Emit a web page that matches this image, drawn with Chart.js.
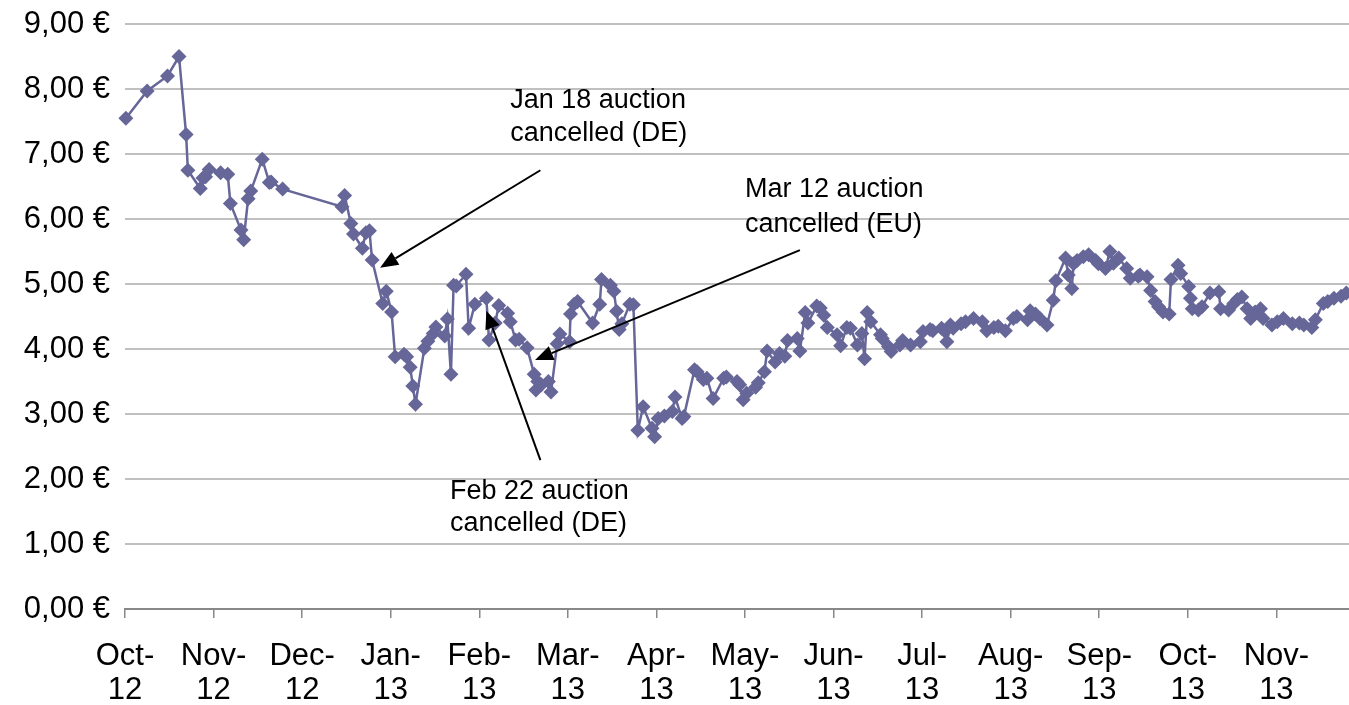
<!DOCTYPE html>
<html>
<head>
<meta charset="utf-8">
<script src="https://cdn.jsdelivr.net/npm/chart.js@4"></script>
<style>
  html, body { margin: 0; padding: 0; background: #fff; overflow: hidden; }
  canvas { display: block; }
</style>
</head>
<body>
<canvas id="chart" width="1349" height="705"></canvas>
<script>
// month tick labels (one tick per month, evenly spaced)
const monthLabels = ["Oct-12", "Nov-12", "Dec-12", "Jan-13", "Feb-13", "Mar-13", "Apr-13",
  "May-13", "Jun-13", "Jul-13", "Aug-13", "Sep-13", "Oct-13", "Nov-13"];

// x = months since start of Oct-12, y = EUA price in €
const monthPos = [
  0.01, 0.25, 0.48, 0.61, 0.69, 0.71, 0.85, 0.88, 0.91, 0.95,
  1.08, 1.16, 1.19, 1.31, 1.34, 1.39, 1.42, 1.55, 1.63, 1.65,
  1.78, 2.45, 2.48, 2.55, 2.58, 2.68, 2.72, 2.76, 2.79, 2.91,
  2.95, 3.01, 3.05, 3.15, 3.18, 3.22, 3.25, 3.28, 3.38, 3.42,
  3.48, 3.51, 3.61, 3.64, 3.68, 3.71, 3.74, 3.85, 3.88, 3.95,
  4.08, 4.11, 4.18, 4.22, 4.32, 4.35, 4.41, 4.45, 4.54, 4.62,
  4.64, 4.66, 4.70, 4.78, 4.81, 4.88, 4.91, 5.02, 5.03, 5.07,
  5.11, 5.28, 5.36, 5.38, 5.48, 5.52, 5.55, 5.58, 5.61, 5.70,
  5.74, 5.79, 5.85, 5.95, 5.98, 6.02, 6.09, 6.18, 6.21, 6.29,
  6.31, 6.43, 6.46, 6.53, 6.57, 6.64, 6.76, 6.79, 6.91, 6.94,
  6.98, 7.02, 7.12, 7.15, 7.22, 7.25, 7.34, 7.39, 7.45, 7.48,
  7.59, 7.62, 7.68, 7.71, 7.81, 7.85, 7.89, 7.93, 8.04, 8.08,
  8.15, 8.19, 8.27, 8.32, 8.35, 8.38, 8.42, 8.53, 8.55, 8.62,
  8.65, 8.75, 8.78, 8.87, 8.98, 9.01, 9.09, 9.12, 9.22, 9.26,
  9.28, 9.32, 9.35, 9.44, 9.49, 9.58, 9.68, 9.73, 9.81, 9.86,
  9.94, 10.03, 10.07, 10.19, 10.22, 10.28, 10.33, 10.41, 10.48, 10.51,
  10.62, 10.65, 10.69, 10.71, 10.75, 10.82, 10.88, 10.96, 10.99, 11.07,
  11.12, 11.16, 11.22, 11.31, 11.35, 11.44, 11.46, 11.54, 11.58, 11.63,
  11.67, 11.72, 11.79, 11.81, 11.89, 11.92, 12.01, 12.03, 12.05, 12.12,
  12.16, 12.25, 12.35, 12.37, 12.46, 12.52, 12.56, 12.61, 12.67, 12.71,
  12.76, 12.82, 12.85, 12.95, 13.01, 13.08, 13.18, 13.26, 13.31, 13.40,
  13.44, 13.53, 13.58, 13.65, 13.73, 13.79
];
const prices = [
  7.55, 7.97, 8.20, 8.50, 7.30, 6.75, 6.47, 6.63, 6.65, 6.76,
  6.71, 6.69, 6.24, 5.83, 5.68, 6.31, 6.43, 6.92, 6.56, 6.57,
  6.46, 6.19, 6.36, 5.93, 5.77, 5.55, 5.79, 5.82, 5.37, 4.70,
  4.89, 4.57, 3.88, 3.92, 3.88, 3.72, 3.43, 3.15, 4.01, 4.12,
  4.24, 4.34, 4.20, 4.46, 3.61, 4.98, 4.97, 5.15, 4.32, 4.69,
  4.78, 4.14, 4.40, 4.67, 4.55, 4.42, 4.14, 4.15, 4.02, 3.61,
  3.37, 3.50, 3.45, 3.50, 3.34, 4.08, 4.23, 4.11, 4.54, 4.69,
  4.73, 4.40, 4.69, 5.07, 4.98, 4.89, 4.58, 4.30, 4.39, 4.69,
  4.68, 2.75, 3.11, 2.78, 2.65, 2.93, 2.97, 3.04, 3.26, 2.93,
  2.96, 3.68, 3.65, 3.53, 3.55, 3.24, 3.55, 3.57, 3.50, 3.45,
  3.22, 3.32, 3.41, 3.48, 3.65, 3.97, 3.80, 3.93, 3.89, 4.13,
  4.16, 3.97, 4.56, 4.40, 4.66, 4.63, 4.52, 4.33, 4.22, 4.05,
  4.33, 4.32, 4.06, 4.24, 3.85, 4.56, 4.42, 4.22, 4.16, 4.04,
  3.96, 4.06, 4.13, 4.06, 4.11, 4.27, 4.30, 4.28, 4.32, 4.27,
  4.11, 4.37, 4.32, 4.39, 4.42, 4.47, 4.42, 4.28, 4.33, 4.35,
  4.28, 4.47, 4.50, 4.45, 4.59, 4.54, 4.47, 4.37, 4.75, 5.05,
  5.40, 5.14, 4.93, 5.31, 5.36, 5.42, 5.45, 5.36, 5.31, 5.24,
  5.50, 5.32, 5.40, 5.24, 5.09, 5.12, 5.14, 5.11, 4.90, 4.73,
  4.65, 4.57, 4.54, 5.07, 5.29, 5.16, 4.96, 4.78, 4.62, 4.60,
  4.65, 4.86, 4.88, 4.62, 4.60, 4.70, 4.76, 4.80, 4.62, 4.47,
  4.57, 4.62, 4.47, 4.37, 4.42, 4.47, 4.39, 4.40, 4.37, 4.33,
  4.45, 4.70, 4.73, 4.78, 4.81, 4.86
];

// callouts, anchored in chart units (months, €)
const notes = [
  { lines: ["Jan 18 auction", "cancelled (DE)"], x: 4.35, y: [7.83, 7.32] },
  { lines: ["Mar 12 auction", "cancelled (EU)"], x: 7.00, y: [6.45, 5.91] },
  { lines: ["Feb 22 auction", "cancelled (DE)"], x: 3.67, y: [1.80, 1.31] },
];
const arrows = [
  { from: [4.69, 6.75], to: [2.88, 5.25] },
  { from: [7.62, 5.52], to: [4.63, 3.83] },
  { from: [4.69, 2.29], to: [4.08, 4.59] },
];

const FONT = "'Liberation Sans', Arial, sans-serif";
const LINE = "#666699";

const callouts = {
  id: "callouts",
  afterDatasetsDraw(chart) {
    const { ctx, scales: { x, y } } = chart;
    ctx.save();
    ctx.fillStyle = "#000";
    ctx.textBaseline = "middle";
    ctx.textAlign = "left";
    ctx.font = "27px " + FONT;
    notes.forEach((n) => {
      n.lines.forEach((t, i) => ctx.fillText(t, x.getPixelForValue(n.x), y.getPixelForValue(n.y[i])));
    });
    ctx.strokeStyle = "#000";
    ctx.lineWidth = 2;
    arrows.forEach((a) => {
      const x1 = x.getPixelForValue(a.from[0]), y1 = y.getPixelForValue(a.from[1]);
      const x2 = x.getPixelForValue(a.to[0]), y2 = y.getPixelForValue(a.to[1]);
      const ang = Math.atan2(y2 - y1, x2 - x1);
      const hl = 18, hw = 7.5;
      const bx = x2 - hl * Math.cos(ang), by = y2 - hl * Math.sin(ang);
      ctx.beginPath();
      ctx.moveTo(x1, y1);
      ctx.lineTo(bx, by);
      ctx.stroke();
      ctx.beginPath();
      ctx.moveTo(x2, y2);
      ctx.lineTo(bx + hw * Math.sin(ang), by - hw * Math.cos(ang));
      ctx.lineTo(bx - hw * Math.sin(ang), by + hw * Math.cos(ang));
      ctx.closePath();
      ctx.fill();
    });
    ctx.restore();
  },
};

new Chart(document.getElementById("chart"), {
  type: "line",
  data: {
    datasets: [{
      data: monthPos.map((m, i) => ({ x: m, y: prices[i] })),
      borderColor: LINE,
      borderWidth: 2.5,
      backgroundColor: LINE,
      pointStyle: "rectRot",
      pointRadius: 7.5,
      pointBorderWidth: 0,
      pointBackgroundColor: LINE,
      tension: 0,
      clip: false,
    }],
  },
  options: {
    responsive: false,
    animation: false,
    events: [],
    layout: { autoPadding: false, padding: { top: 24, right: 0, left: 0, bottom: 0 } },
    plugins: { legend: { display: false }, tooltip: { enabled: false } },
    scales: {
      x: {
        type: "linear",
        min: 0,
        max: 13.82,
        afterFit: (s) => { s.height = 96; s.paddingLeft = 0; s.paddingRight = 0; },
        border: { display: true, color: "#888", width: 2 },
        grid: { drawOnChartArea: false, drawTicks: true, tickLength: 9, color: "#888", lineWidth: 1.5 },
        ticks: {
          stepSize: 1,
          includeBounds: false,
          autoSkip: false,
          maxRotation: 0,
          padding: 22,
          color: "#000",
          font: { family: FONT, size: 31, lineHeight: 1.08 },
          callback: (v) => {
            const s = monthLabels[v];
            return s ? [s.slice(0, 4), s.slice(4)] : "";
          },
        },
      },
      y: {
        min: 0,
        max: 9,
        afterFit: (s) => { s.width = 125; s.paddingTop = 0; s.paddingBottom = 0; },
        border: { display: false },
        grid: { drawTicks: false, color: "#c0c0c0", lineWidth: 2 },
        ticks: {
          stepSize: 1,
          padding: 15,
          color: "#000",
          font: { family: FONT, size: 31 },
          callback: (v) => v.toFixed(2).replace(".", ",") + " €",
        },
      },
    },
  },
  plugins: [callouts],
});
</script>
</body>
</html>
